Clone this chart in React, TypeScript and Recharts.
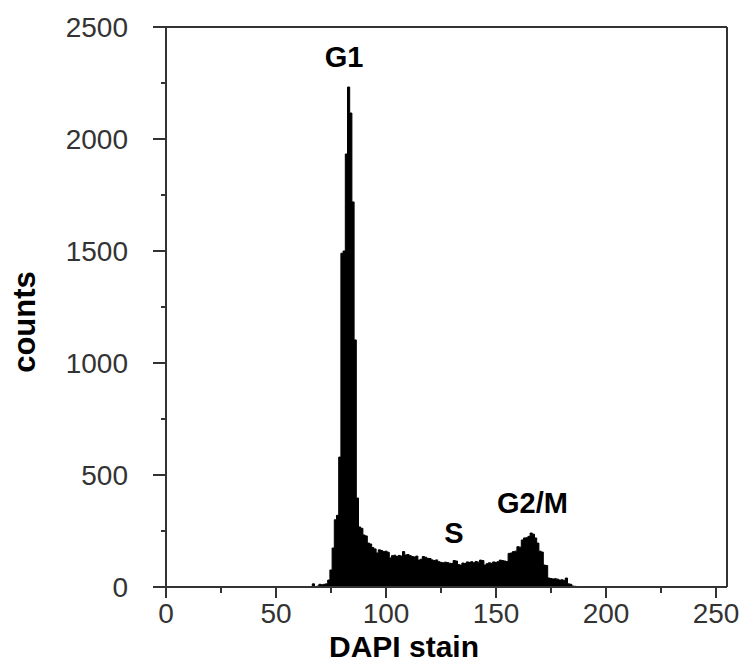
import { AreaChart, Area, XAxis, YAxis, ReferenceLine, ReferenceDot } from "recharts";

// DAPI channel bins and counts per bin
const dapiBins = [
  60, 61, 62, 63, 64, 65, 66, 67, 68, 69,
  70, 71, 72, 73, 74, 75, 76, 77, 78, 79,
  80, 81, 82, 83, 84, 85, 86, 87, 88, 89,
  90, 91, 92, 93, 94, 95, 96, 97, 98, 99,
  100, 101, 102, 103, 104, 105, 106, 107, 108, 109,
  110, 111, 112, 113, 114, 115, 116, 117, 118, 119,
  120, 121, 122, 123, 124, 125, 126, 127, 128, 129,
  130, 131, 132, 133, 134, 135, 136, 137, 138, 139,
  140, 141, 142, 143, 144, 145, 146, 147, 148, 149,
  150, 151, 152, 153, 154, 155, 156, 157, 158, 159,
  160, 161, 162, 163, 164, 165, 166, 167, 168, 169,
  170, 171, 172, 173, 174, 175, 176, 177, 178, 179,
  180, 181, 182, 183, 184, 185, 186, 187, 188, 189,
  190,
];

const binCounts = [
  0, 0, 0, 0, 0, 0, 0, 14, 0, 4,
  12, 10, 12, 14, 31, 76, 174, 300, 320, 580,
  1490, 1500, 1933, 2232, 2116, 1719, 1103, 397, 268, 262,
  232, 228, 196, 192, 176, 170, 152, 166, 163, 158,
  160, 155, 130, 140, 142, 136, 141, 138, 158, 143,
  145, 140, 136, 134, 138, 120, 124, 136, 133, 128,
  127, 121, 118, 121, 113, 110, 108, 111, 109, 106,
  105, 118, 116, 100, 98, 107, 105, 112, 110, 113,
  108, 114, 111, 120, 118, 98, 104, 108, 106, 112,
  110, 113, 120, 118, 116, 114, 150, 152, 158, 160,
  180, 178, 210, 219, 220, 226, 241, 236, 219, 196,
  160, 156, 98, 96, 40, 38, 36, 37, 35, 31,
  32, 30, 40, 14, 12, 4, 3, 0, 0, 0,
  0,
];

const xTicks = [0, 25, 50, 75, 100, 125, 150, 175, 200, 225, 250];
const yTicks = [0, 250, 500, 750, 1000, 1250, 1500, 1750, 2000, 2250, 2500];

const phaseNames = ["G1", "S", "G2/M"];
const phaseX = [80.9, 130.9, 166.6];
const phaseY = [2321, 195, 329];

const data = dapiBins.map((b, i) => ({ dapi: b, count: binCounts[i] }));

const AXIS = "#333";
const FONT = "'Liberation Sans', Arial, sans-serif";

function XTick(props: any) {
  const { x, y, payload } = props;
  const major = payload.value % 50 === 0;
  return (
    <g>
      <line x1={x} x2={x} y1={y} y2={y + (major ? 11 : 6)} stroke={AXIS} strokeWidth={2} />
      {major && (
        <text x={x} y={y + 36} textAnchor="middle" fontFamily={FONT} fontSize={28} fill="#333">
          {payload.value}
        </text>
      )}
    </g>
  );
}

function YTick(props: any) {
  const { x, y, payload } = props;
  const major = payload.value % 500 === 0;
  return (
    <g>
      <line x1={x - (major ? 13 : 5)} x2={x} y1={y} y2={y} stroke={AXIS} strokeWidth={2} />
      {major && (
        <text x={x - 38} y={y + 10} textAnchor="end" fontFamily={FONT} fontSize={28} fill="#333">
          {payload.value}
        </text>
      )}
    </g>
  );
}

function PhaseLabel(name: string) {
  return (p: any) => (
    <text x={p.cx} y={p.cy} textAnchor="middle" fontFamily={FONT} fontWeight="bold" fontSize={29} fill="#000">
      {name}
    </text>
  );
}

export default function App() {
  return (
    <div style={{ position: "absolute", left: 0, top: 0, background: "#fff" }}>
      <AreaChart width={741} height={664} data={data} margin={{ top: 27, right: 14, bottom: 0, left: 0 }}>
        <XAxis
          dataKey="dapi"
          type="number"
          domain={[0, 255]}
          ticks={xTicks}
          interval={0}
          height={77}
          tickSize={0}
          tickMargin={0}
          tickLine={false}
          axisLine={{ stroke: AXIS, strokeWidth: 2 }}
          tick={<XTick />}
          label={{
            content: ({ viewBox }: any) => (
              <text
                x={viewBox.x + 238}
                y={viewBox.y + 70}
                textAnchor="middle"
                fontFamily={FONT}
                fontWeight="bold"
                fontSize={30}
                fill="#000"
              >
                DAPI stain
              </text>
            ),
          }}
        />
        <YAxis
          type="number"
          domain={[0, 2500]}
          ticks={yTicks}
          interval={0}
          width={166}
          tickSize={0}
          tickMargin={0}
          tickLine={false}
          axisLine={{ stroke: AXIS, strokeWidth: 2 }}
          tick={<YTick />}
          label={{
            content: ({ viewBox }: any) => {
              const cx = viewBox.x + 35;
              const cy = viewBox.y + viewBox.height / 2 + 15;
              return (
                <text
                  x={cx}
                  y={cy}
                  transform={`rotate(-90, ${cx}, ${cy})`}
                  textAnchor="middle"
                  fontFamily={FONT}
                  fontWeight="bold"
                  fontSize={31}
                  fill="#000"
                >
                  counts
                </text>
              );
            },
          }}
        />
        <ReferenceLine y={2500} stroke={AXIS} strokeWidth={2} />
        <ReferenceLine x={255} stroke={AXIS} strokeWidth={2} />
        <Area
          type="step"
          dataKey="count"
          stroke="#000"
          strokeWidth={1}
          fill="#000"
          fillOpacity={1}
          isAnimationActive={false}
        />
        {phaseNames.map((n, i) => (
          <ReferenceDot key={n} x={phaseX[i]} y={phaseY[i]} r={0} shape={PhaseLabel(n)} />
        ))}
      </AreaChart>
    </div>
  );
}
